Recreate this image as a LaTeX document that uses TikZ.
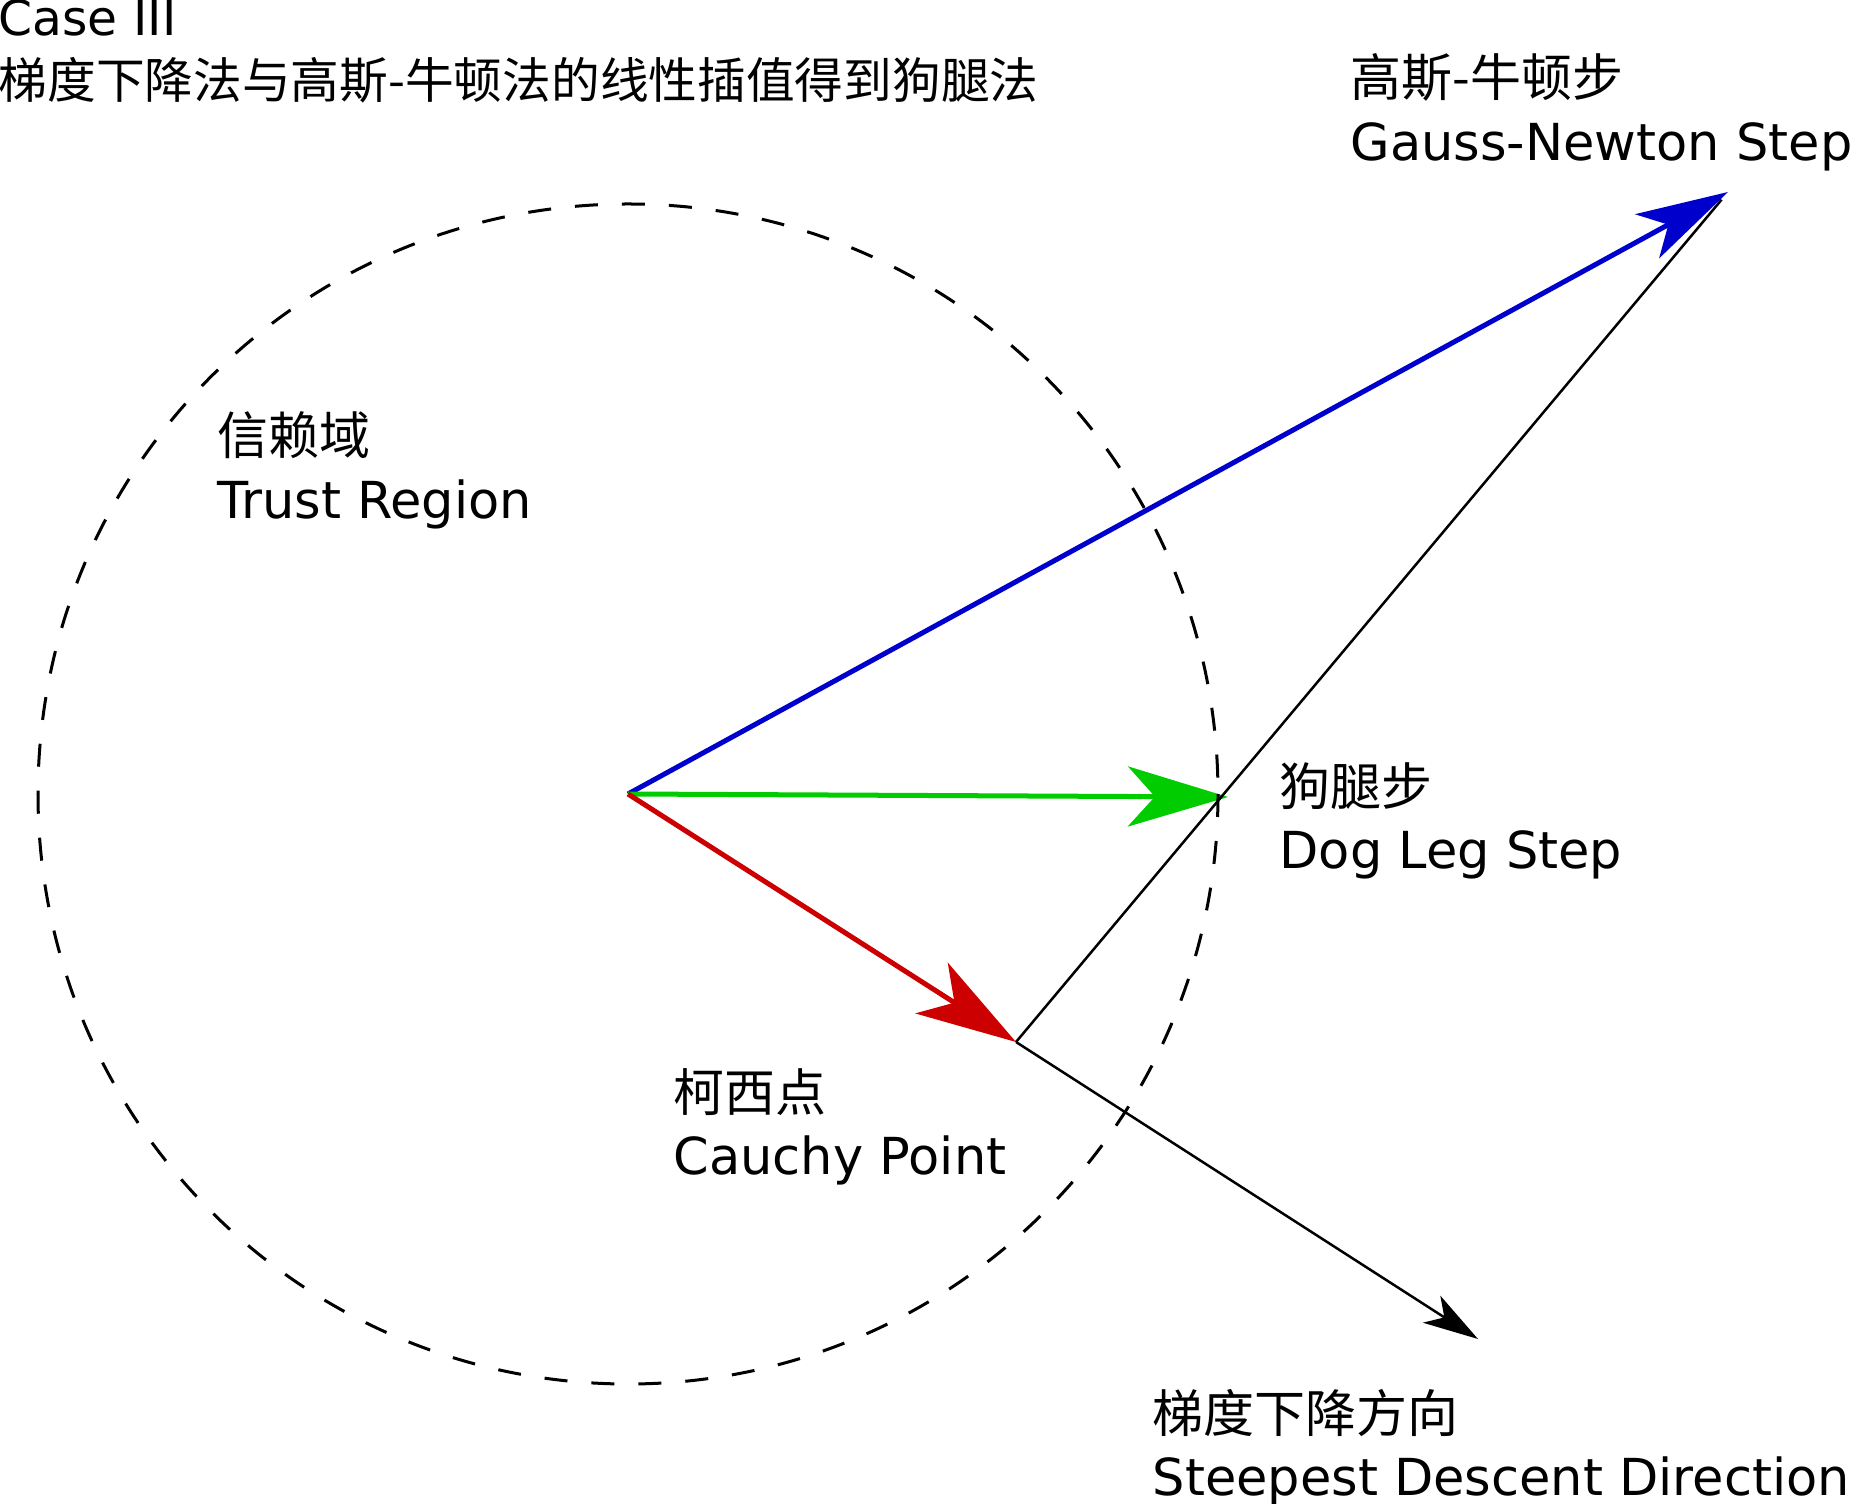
\documentclass[tikz,border=0pt]{standalone}
\usepackage{fontspec}
\setmainfont{DejaVu Sans}
\newfontfamily\cjk{Noto Sans CJK SC}
\usepackage{xcolor}
\usetikzlibrary{arrows.meta, positioning}

\definecolor{gnblue}{RGB}{0,0,204}
\definecolor{dlgreen}{RGB}{0,204,0}
\definecolor{cpred}{RGB}{204,0,0}

\begin{document}
\begin{tikzpicture}[
    x=0.01cm, y=-0.01cm,
    lbl/.style={anchor=base west, inner sep=0pt, font=\fontsize{14.5}{17}\selectfont},
    sub/.style={lbl, below=0.63cm of #1.base west, anchor=base west},
    title/.style={lbl, font=\fontsize{13.85}{17}\selectfont},
    steparrow/.style={line width=0.05cm, -{Stealth[length=1cm, width=0.6cm, inset=0.27cm]}},
    guide/.style={black, line width=0.025cm},
    trust/.style={black, line width=0.03cm, dash pattern=on 0.23cm off 0.24cm},
]
    \useasboundingbox (0,0) rectangle (1852,1504);

    \coordinate (origin) at (628,794);
    \coordinate (gn) at (1728,192);
    \coordinate (dogleg) at (1228,797);
    \coordinate (cauchy) at (1016,1042);
    \coordinate (sd) at (1478,1339);

    % steps
    \draw[steparrow, gnblue, -{Stealth[length=0.92cm, width=0.5cm, inset=0.24cm]}] (origin) -- (gn);
    \draw[steparrow, dlgreen] (origin) -- (dogleg);
    \draw[steparrow, cpred] (origin) -- (cauchy);

    \draw[guide, shorten >=0.1cm] (cauchy) -- (gn);
    \draw[guide, -{Stealth[length=0.55cm, width=0.32cm, inset=0.15cm]}] (cauchy) -- (sd);

    \draw[trust] (origin) circle[radius=590];

    % labels
    \node[title] (caseTitle) at (-2,36) {Case III};
    \node[title, below=0.62cm of caseTitle.base west, anchor=base west] (caseSub) {\cjk 梯度下降法与高斯-牛顿法的线性插值得到狗腿法};

    \node[lbl] (gnZh) at (1350,97) {\cjk 高斯-牛顿步};
    \node[sub=gnZh] (gnEn) {Gauss-Newton Step};

    \node[lbl] (trZh) at (217,455) {\cjk 信赖域};
    \node[sub=trZh] (trEn) {Trust Region};

    \node[lbl] (dlZh) at (1279,805) {\cjk 狗腿步};
    \node[sub=dlZh] (dlEn) {Dog Leg Step};

    \node[lbl] (cpZh) at (673,1111) {\cjk 柯西点};
    \node[sub=cpZh] (cpEn) {Cauchy Point};

    \node[lbl] (sdZh) at (1152,1432) {\cjk 梯度下降方向};
    \node[sub=sdZh] (sdEn) {Steepest Descent Direction};
\end{tikzpicture}
\end{document}
